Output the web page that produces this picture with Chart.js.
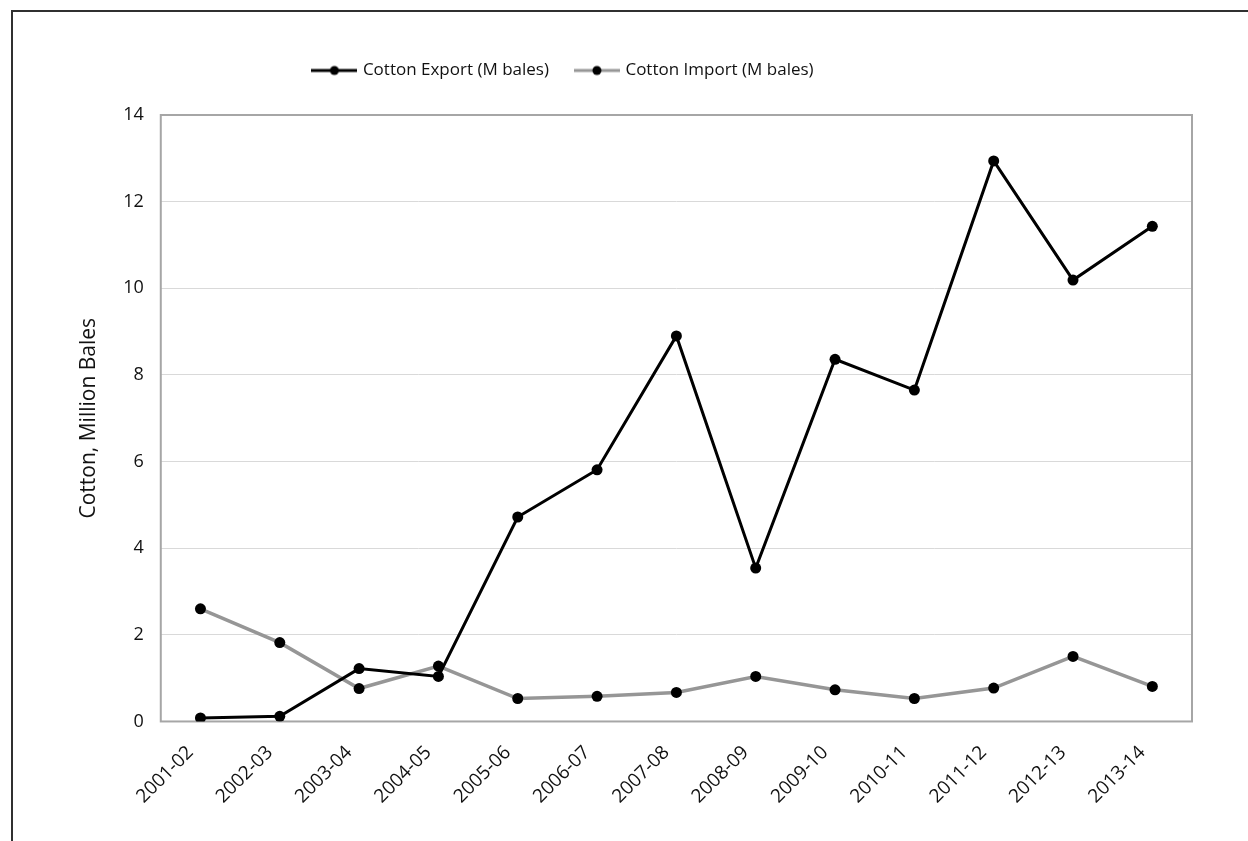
<!DOCTYPE html>
<html>
<head>
<meta charset="utf-8">
<script src="https://cdn.jsdelivr.net/npm/chart.js@4.4.1/dist/chart.umd.min.js"></script>
<style>
  body { margin: 0; background: #fff; }
  #wrap { position: relative; width: 1248px; height: 841px; overflow: hidden; }
  #frame { position: absolute; left: 11px; top: 10px; width: 1400px; height: 1000px;
           border-top: 2px solid #303030; border-left: 2px solid #303030; }
  #chart0 { position: absolute; left: 0; top: 0; }
</style>
</head>
<body>
<div id="wrap">
  <div id="frame"></div>
  <canvas id="chart0" width="1248" height="841"></canvas>
</div>
<script>
/** Data **/
const seasons = ["2001-02", "2002-03", "2003-04", "2004-05", "2005-06", "2006-07", "2007-08",
                 "2008-09", "2009-10", "2010-11", "2011-12", "2012-13", "2013-14"];
const cottonExport = [0.08, 0.12, 1.22, 1.04, 4.72, 5.81, 8.90, 3.54, 8.36, 7.65, 12.94, 10.19, 11.43];
const cottonImport = [2.60, 1.82, 0.76, 1.28, 0.53, 0.58, 0.67, 1.04, 0.73, 0.53, 0.77, 1.50, 0.81];
const yTicks = [0, 2, 4, 6, 8, 10, 12, 14];

const fontFamily = "'Open Sans', sans-serif";
const textColor = "#111";
const legendShiftX = -70;   // legend sits left of centre in the original

// legend icon: short line with a dot in the middle
function legendIcon(color) {
  var c = document.createElement("canvas");
  c.width = 46; c.height = 12;
  var g = c.getContext("2d");
  g.strokeStyle = color;
  g.lineWidth = 3;
  g.beginPath(); g.moveTo(0, 6); g.lineTo(46, 6); g.stroke();
  g.fillStyle = "#000";
  g.beginPath(); g.arc(23, 6, 4.5, 0, Math.PI * 2); g.fill();
  return c;
}

// grey box round the plot area + legend nudge
const plotFrame = {
  id: "plotFrame",
  afterLayout(chart) {
    chart.legend.left += legendShiftX;
    chart.legend.right += legendShiftX;
  },
  beforeDatasetsDraw(chart) {
    const a = chart.chartArea, ctx = chart.ctx;
    ctx.save();
    ctx.strokeStyle = "#a6a6a6";
    ctx.lineWidth = 2;
    ctx.strokeRect(a.left, a.top, a.right - a.left, a.bottom - a.top);
    ctx.restore();
  }
};

var ctx = document.getElementById("chart0");
var chart = new Chart(ctx, {
  type: "line",
  data: {
    labels: seasons,
    datasets: [{
      label: "Cotton Export (M bales)",
      data: cottonExport,
      borderColor: "#000000",
      borderWidth: 3,
      pointRadius: 5.5,
      pointBackgroundColor: "#000",
      pointBorderWidth: 0,
      tension: 0
    }, {
      label: "Cotton Import (M bales)",
      data: cottonImport,
      borderColor: "#969696",
      borderWidth: 3.5,
      pointRadius: 5.5,
      pointBackgroundColor: "#000",
      pointBorderWidth: 0,
      tension: 0
    }]
  },
  options: {
    responsive: false,
    animation: false,
    layout: { padding: { left: 76, right: 56, top: 34, bottom: 21 } },
    plugins: {
      legend: {
        position: "top",
        labels: {
          usePointStyle: true,
          pointStyleWidth: 40,
          boxHeight: 12,
          padding: 28,
          color: textColor,
          font: { family: fontFamily, size: 17 },
          generateLabels: function(chart) {
            return chart.data.datasets.map(function(ds, i) {
              return {
                text: ds.label,
                pointStyle: legendIcon(ds.borderColor),
                fontColor: textColor,
                lineWidth: 0,
                datasetIndex: i
              };
            });
          }
        }
      },
      tooltip: { enabled: false }
    },
    scales: {
      x: {
        offset: true,
        grid: { display: false },
        border: { display: false },
        ticks: {
          color: textColor,
          font: { family: fontFamily, size: 19 },
          minRotation: 45,
          maxRotation: 45,
          padding: 12,
          labelOffset: -10
        }
      },
      // empty top axis, only keeps a gap between legend and plot
      xTop: {
        position: "top",
        offset: true,
        grid: { display: false },
        border: { display: false },
        ticks: { display: false },
        afterFit: function(scale) { scale.height = 26; }
      },
      y: {
        min: 0,
        max: 14,
        afterBuildTicks: function(axis) {
          axis.ticks = yTicks.map(function(v) { return { value: v }; });
        },
        grid: { color: "#d9d9d9", lineWidth: 1, drawTicks: false },
        border: { display: false },
        title: {
          display: true,
          text: "Cotton, Million Bales",
          color: textColor,
          font: { family: fontFamily, size: 21 },
          padding: { top: 0, bottom: 5 }
        },
        ticks: {
          color: textColor,
          font: { family: fontFamily, size: 18 },
          padding: 17
        }
      }
    }
  },
  plugins: [plotFrame]
});
</script>
</body>
</html>
